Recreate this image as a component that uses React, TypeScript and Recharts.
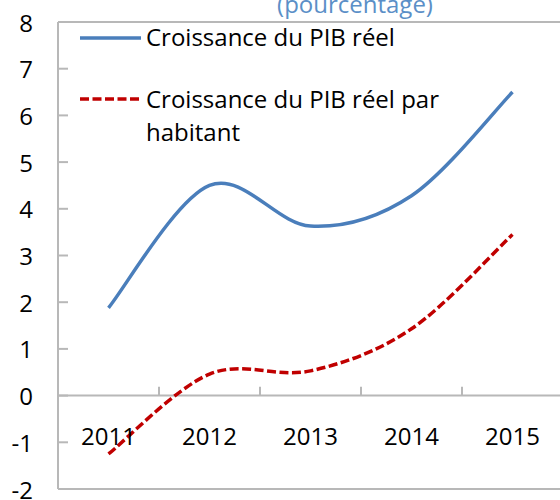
import React from 'react';
import { LineChart, Line, XAxis, YAxis, ReferenceLine, Legend } from 'recharts';

const years = [2011, 2012, 2013, 2014, 2015];
const gdpGrowth = [1.88, 4.5, 3.63, 4.28, 6.5];
const gdpPerCapitaGrowth = [-1.25, 0.46, 0.53, 1.43, 3.45];
const yTicks = [-2, -1, 0, 1, 2, 3, 4, 5, 6, 7, 8];
const seriesNames = ['Croissance du PIB réel', 'Croissance du PIB réel par', 'habitant'];
const titleText = '(pourcentage)';

const data = years.map((y, i) => ({ year: y, gdp: gdpGrowth[i], gdpPc: gdpPerCapitaGrowth[i] }));
const boundaries = years.slice(0, -1).map((y) => y + 0.5);

const FONT = '"Open Sans", sans-serif';
const GREY = '#b8b8b8';
const BLUE = '#4A7EBB';
const RED = '#C00000';

// Excel-like smoothed line (Catmull-Rom through points)
function excelSmooth(context: any) {
  let pts: [number, number][] = [];
  return {
    areaStart() {},
    areaEnd() {},
    lineStart() {
      pts = [];
    },
    lineEnd() {
      const n = pts.length;
      if (!n) return;
      context.moveTo(pts[0][0], pts[0][1]);
      for (let i = 0; i < n - 1; i++) {
        const p0 = pts[Math.max(i - 1, 0)];
        const p1 = pts[i];
        const p2 = pts[i + 1];
        const p3 = pts[Math.min(i + 2, n - 1)];
        context.bezierCurveTo(
          p1[0] + (p2[0] - p0[0]) / 6,
          p1[1] + (p2[1] - p0[1]) / 6,
          p2[0] - (p3[0] - p1[0]) / 6,
          p2[1] - (p3[1] - p1[1]) / 6,
          p2[0],
          p2[1]
        );
      }
    },
    point(x: number, y: number) {
      pts.push([+x, +y]);
    },
  };
}

const YearTick = (props: any) => {
  const { x, y, payload } = props;
  return (
    <text x={x} y={y - 54} textAnchor="middle" dominantBaseline="central" fontFamily={FONT} fontSize={24} fill="#000">
      {payload.value}
    </text>
  );
};

const LegendContent = () => (
  <svg width={460} height={160} style={{ display: 'block' }}>
    <line x1={80} x2={141} y1={38} y2={38} stroke={BLUE} strokeWidth={3.5} />
    <text x={146} y={46} fontFamily={FONT} fontSize={24} fill="#000">{seriesNames[0]}</text>
    <line x1={80} x2={141} y1={99} y2={99} stroke={RED} strokeWidth={3.5} strokeDasharray="9 3.5" />
    <text x={146} y={108} fontFamily={FONT} fontSize={24} fill="#000">{seriesNames[1]}</text>
    <text x={146} y={141} fontFamily={FONT} fontSize={24} fill="#000">{seriesNames[2]}</text>
  </svg>
);

export default function App() {
  return (
    <div style={{ position: 'absolute', left: 0, top: 0, width: 560, height: 500, overflow: 'hidden', background: '#fff' }}>
      <LineChart width={575} height={500} data={data} margin={{ top: 22, right: 12, bottom: 10, left: 0 }}>
        <XAxis
          dataKey="year"
          type="number"
          domain={[years[0] - 0.5, years[years.length - 1] + 0.5]}
          ticks={years}
          height={1}
          tickLine={false}
          tickSize={0}
          tickMargin={0}
          axisLine={{ stroke: GREY, strokeWidth: 2 }}
          tick={<YearTick />}
          interval={0}
        />
        <YAxis
          domain={[-2, 8]}
          ticks={yTicks}
          width={58}
          interval={0}
          axisLine={{ stroke: GREY, strokeWidth: 2 }}
          tickLine={{ stroke: GREY, strokeWidth: 2 }}
          tickSize={-10}
          tickMargin={35}
          tick={{ fontFamily: FONT, fontSize: 24, fill: '#000', dy: 1 }}
        />
        <ReferenceLine y={8} stroke={GREY} strokeWidth={2} />
        <ReferenceLine y={0} stroke={GREY} strokeWidth={2} />
        {boundaries.map((b) => (
          <ReferenceLine
            key={b}
            segment={[{ x: b, y: 0 }, { x: b, y: 0.19 }]}
            stroke={GREY}
            strokeWidth={2}
          />
        ))}
        <Line
          dataKey="gdp"
          type={excelSmooth as any}
          stroke={BLUE}
          strokeWidth={3.5}
          dot={false}
          activeDot={false}
          isAnimationActive={false}
        />
        <Line
          dataKey="gdpPc"
          type={excelSmooth as any}
          stroke={RED}
          strokeWidth={3.5}
          strokeDasharray="9 3.5"
          dot={false}
          activeDot={false}
          isAnimationActive={false}
        />
        <Legend
          layout="horizontal"
          verticalAlign="middle"
          align="center"
          content={<LegendContent />}
          wrapperStyle={{ position: 'absolute', left: 0, top: 0, width: 460, height: 160 }}
        />
      </LineChart>
      <svg width={560} height={40} style={{ position: 'absolute', left: 0, top: 0, pointerEvents: 'none' }}>
        <text x={355} y={13} textAnchor="middle" fontFamily={FONT} fontSize={24} fill="#5B8FC7">
          {titleText}
        </text>
      </svg>
    </div>
  );
}
